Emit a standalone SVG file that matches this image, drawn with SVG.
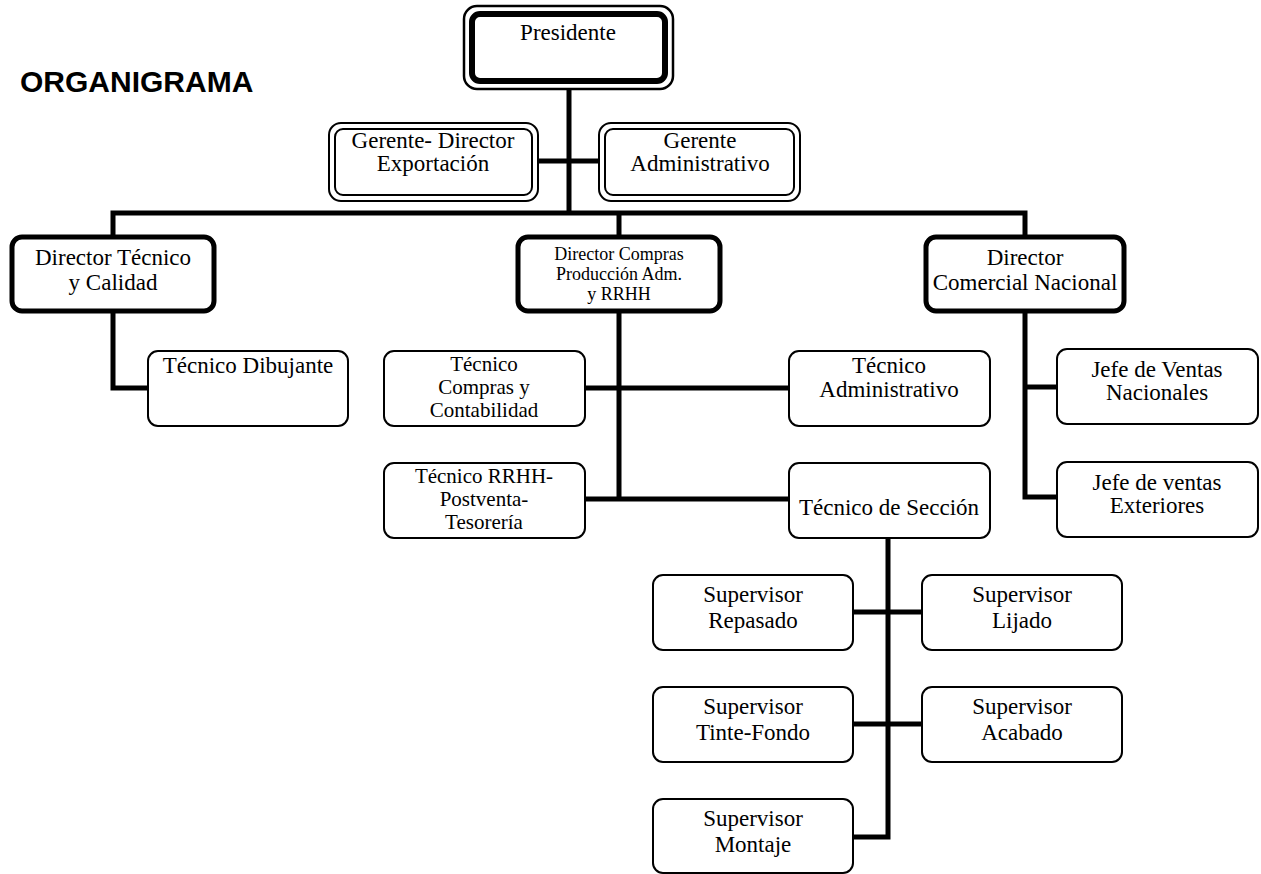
<svg xmlns="http://www.w3.org/2000/svg" width="1261" height="874" viewBox="0 0 1261 874">
<style>
.thin{fill:#fff;stroke:#000;stroke-width:2}
.thick{fill:#fff;stroke:#000;stroke-width:5}
.conn{fill:none;stroke:#000;stroke-width:5}
text{font-family:"Liberation Serif","Times New Roman",serif;font-size:23px;text-anchor:middle;fill:#000}
.sm{font-size:18px}
.md{font-size:21px}
.title{font-family:"Liberation Sans",Arial,sans-serif;font-weight:bold;font-size:30px;text-anchor:start}
</style>
<rect width="1261" height="874" fill="#fff"/>
<text class="title" x="20" y="92">ORGANIGRAMA</text>
<g id="connectors">
<path class="conn" d="M569 89 V213"/>
<path class="conn" d="M538 161 H599"/>
<path class="conn" d="M113 237 V213 H1025 V237"/>
<path class="conn" d="M619 213 V237"/>
<path class="conn" d="M113 311 V388 H148"/>
<path class="conn" d="M619 311 V499"/>
<path class="conn" d="M585 388 H789"/>
<path class="conn" d="M585 499 H789"/>
<path class="conn" d="M1025 311 V497 H1057"/>
<path class="conn" d="M1025 387 H1057"/>
<path class="conn" d="M888 538 V837 H853"/>
<path class="conn" d="M853 612 H922"/>
<path class="conn" d="M853 724 H922"/>
</g>
<g id="presidente">
<rect x="464" y="6" width="209" height="83" rx="13" fill="#fff" stroke="#000" stroke-width="2.5"/>
<rect x="472" y="14" width="193" height="67" rx="8" fill="#fff" stroke="#000" stroke-width="6"/>
<text x="568" y="40">Presidente</text>
</g>
<g id="gerente-director">
<rect class="thin" x="329" y="123" width="209" height="78" rx="12"/>
<rect class="thin" x="335" y="129" width="197" height="66" rx="8"/>
<text x="433" y="148">Gerente- Director</text>
<text x="433" y="171">Exportación</text>
</g>
<g id="gerente-admin">
<rect class="thin" x="599" y="123" width="201" height="78" rx="12"/>
<rect class="thin" x="605" y="129" width="189" height="66" rx="8"/>
<text x="700" y="148">Gerente</text>
<text x="700" y="171">Administrativo</text>
</g>
<g id="director-tecnico">
<rect class="thick" x="12" y="237" width="202" height="74" rx="10"/>
<text x="113" y="265">Director Técnico</text>
<text x="113" y="290">y Calidad</text>
</g>
<g id="director-compras">
<rect class="thick" x="518" y="237" width="202" height="74" rx="10"/>
<text class="sm" x="619" y="260">Director Compras</text>
<text class="sm" x="619" y="280">Producción Adm.</text>
<text class="sm" x="619" y="300">y RRHH</text>
</g>
<g id="director-comercial">
<rect class="thick" x="926" y="237" width="198" height="74" rx="10"/>
<text x="1025" y="265">Director</text>
<text x="1025" y="290">Comercial Nacional</text>
</g>
<g id="tecnico-dibujante">
<rect class="thin" x="148" y="351" width="200" height="75" rx="10"/>
<text x="248" y="373">Técnico Dibujante</text>
</g>
<g id="tecnico-compras">
<rect class="thin" x="384" y="351" width="201" height="75" rx="10"/>
<text class="md" x="484" y="371">Técnico</text>
<text class="md" x="484" y="394">Compras y</text>
<text class="md" x="484" y="417">Contabilidad</text>
</g>
<g id="tecnico-administrativo">
<rect class="thin" x="789" y="351" width="201" height="75" rx="10"/>
<text x="889" y="373">Técnico</text>
<text x="889" y="397">Administrativo</text>
</g>
<g id="tecnico-rrhh">
<rect class="thin" x="384" y="463" width="201" height="75" rx="10"/>
<text class="md" x="484" y="483">Técnico RRHH-</text>
<text class="md" x="484" y="506">Postventa-</text>
<text class="md" x="484" y="529">Tesorería</text>
</g>
<g id="tecnico-seccion">
<rect class="thin" x="789" y="463" width="201" height="75" rx="10"/>
<text x="889" y="515">Técnico de Sección</text>
</g>
<g id="jefe-nacionales">
<rect class="thin" x="1057" y="349" width="201" height="75" rx="10"/>
<text x="1157" y="377">Jefe de Ventas</text>
<text x="1157" y="400">Nacionales</text>
</g>
<g id="jefe-exteriores">
<rect class="thin" x="1057" y="462" width="201" height="75" rx="10"/>
<text x="1157" y="490">Jefe de ventas</text>
<text x="1157" y="513">Exteriores</text>
</g>
<g id="sup-repasado">
<rect class="thin" x="653" y="575" width="200" height="75" rx="10"/>
<text x="753" y="602">Supervisor</text>
<text x="753" y="628">Repasado</text>
</g>
<g id="sup-lijado">
<rect class="thin" x="922" y="575" width="200" height="75" rx="10"/>
<text x="1022" y="602">Supervisor</text>
<text x="1022" y="628">Lijado</text>
</g>
<g id="sup-tinte">
<rect class="thin" x="653" y="687" width="200" height="75" rx="10"/>
<text x="753" y="714">Supervisor</text>
<text x="753" y="740">Tinte-Fondo</text>
</g>
<g id="sup-acabado">
<rect class="thin" x="922" y="687" width="200" height="75" rx="10"/>
<text x="1022" y="714">Supervisor</text>
<text x="1022" y="740">Acabado</text>
</g>
<g id="sup-montaje">
<rect class="thin" x="653" y="799" width="200" height="74" rx="10"/>
<text x="753" y="826">Supervisor</text>
<text x="753" y="852">Montaje</text>
</g>
</svg>
